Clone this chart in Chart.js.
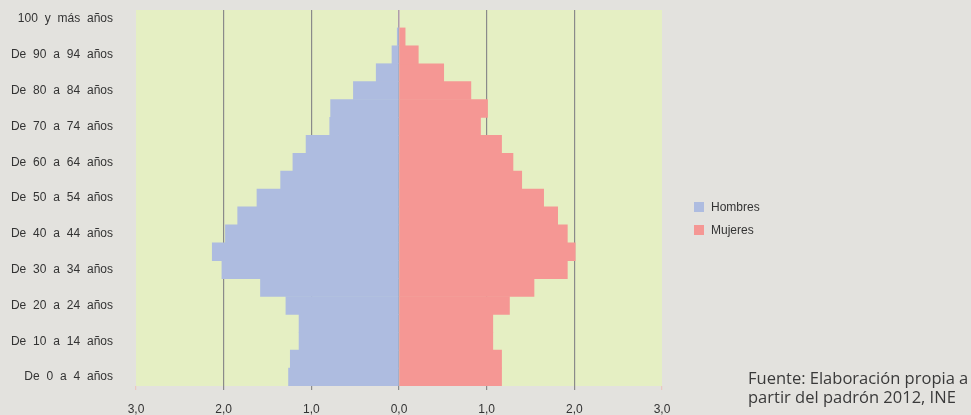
<!DOCTYPE html>
<html>
<head>
<meta charset="utf-8">
<script src="https://cdn.jsdelivr.net/npm/chart.js@4/dist/chart.umd.min.js"></script>
<style>
    html, body { margin: 0; padding: 0; background: #e3e2de; }
    #wrap { position: relative; width: 971px; height: 415px; }
    #legend { position: absolute; left: 694px; top: 201px; font: 12px "Liberation Sans", Arial, sans-serif; color: #333; }
    #legend div { height: 23px; line-height: 12px; }
    #legend span { display: inline-block; width: 10px; height: 10px; margin-right: 7px; vertical-align: -1px; }
    #source { position: absolute; left: 748px; top: 369px; font: 16.5px "Open Sans", sans-serif; color: #3a3a3a; line-height: 18.5px; white-space: nowrap; }
</style>
</head>
<body>
<div id="wrap">
    <canvas id="pyramid" width="971" height="415"></canvas>
    <div id="legend">
        <div><span style="background:#aebce0"></span>Hombres</div>
        <div><span style="background:#f59794"></span>Mujeres</div>
    </div>
    <div id="source">Fuente: Elaboración propia a<br>partir del padrón 2012, INE</div>
</div>
<script>
// Grupos de edad (de abajo hacia arriba)
const ageGroups = [
    'De 0 a 4 años', 'De 5 a 9 años', 'De 10 a 14 años', 'De 15 a 19 años',
    'De 20 a 24 años', 'De 25 a 29 años', 'De 30 a 34 años', 'De 35 a 39 años',
    'De 40 a 44 años', 'De 45 a 49 años', 'De 50 a 54 años', 'De 55 a 59 años',
    'De 60 a 64 años', 'De 65 a 69 años', 'De 70 a 74 años', 'De 75 a 79 años',
    'De 80 a 84 años', 'De 85 a 89 años', 'De 90 a 94 años', 'De 95 a 99 años',
    '100 y más años'
];

// Porcentaje de población por sexo
const hombres = [1.26, 1.24, 1.14, 1.14, 1.29, 1.58, 2.02, 2.13, 1.98, 1.84, 1.62,
    1.35, 1.21, 1.06, 0.79, 0.78, 0.52, 0.26, 0.08, 0.02, 0];
const mujeres = [1.17, 1.17, 1.07, 1.07, 1.26, 1.54, 1.92, 2.01, 1.92, 1.81, 1.65,
    1.40, 1.30, 1.17, 0.93, 1.01, 0.82, 0.51, 0.22, 0.07, 0];

const xTicks = [-3, -2, -1, 0, 1, 2, 3];

// Fondo verde del área del gráfico + espaciado de palabras
const plotBackground = {
    id: 'plotBackground',
    beforeDraw(chart) {
        const a = chart.chartArea;
        chart.ctx.save();
        chart.ctx.fillStyle = '#e5efc3';
        chart.ctx.fillRect(a.left, a.top, a.right - a.left, a.bottom - a.top);
        chart.ctx.restore();
        chart.ctx.wordSpacing = '3.5px';
    }
};

const ctx = document.getElementById('pyramid');
new Chart(ctx, {
    type: 'bar',
    data: {
        labels: ageGroups,
        datasets: [
            {
                label: 'Hombres',
                data: hombres.map(v => -v),
                backgroundColor: '#aebce0',
                barPercentage: 1,
                categoryPercentage: 1
            },
            {
                label: 'Mujeres',
                data: mujeres,
                backgroundColor: '#f59794',
                barPercentage: 1,
                categoryPercentage: 1
            }
        ]
    },
    options: {
        indexAxis: 'y',
        responsive: false,
        animation: false,
        layout: { padding: { left: 0, right: 309, top: 10, bottom: 0 } },
        scales: {
            x: {
                stacked: true,
                min: -3,
                max: 3,
                afterBuildTicks(scale) {
                    scale.ticks = xTicks.map(v => ({ value: v }));
                },
                afterFit(scale) {
                    scale.height = 29;
                    scale.paddingLeft = 0;
                    scale.paddingRight = 0;
                },
                ticks: {
                    color: '#333',
                    font: { family: '"Liberation Sans", Arial, sans-serif', size: 12 },
                    padding: 12,
                    callback: v => Math.abs(v).toFixed(1).replace('.', ',')
                },
                grid: {
                    color: c => (Math.abs(c.tick.value) === 3 ? 'rgba(0,0,0,0)' : '#8a8a8a'),
                    lineWidth: 1.2,
                    drawTicks: true,
                    tickLength: 4,
                    tickColor: c => (Math.abs(c.tick.value) === 3 ? '#ecc8c0' : '#8a8a8a')
                },
                border: { display: false }
            },
            y: {
                stacked: true,
                reverse: true,
                afterFit(scale) {
                    scale.width = 136;
                    scale.paddingTop = 0;
                    scale.paddingBottom = 0;
                },
                ticks: {
                    autoSkip: false,
                    color: '#333',
                    font: { family: '"Liberation Sans", Arial, sans-serif', size: 12 },
                    padding: 23,
                    callback: function(value, index) {
                        return index % 2 === 0 ? this.getLabelForValue(value) : '';
                    }
                },
                grid: { display: false, drawTicks: false },
                border: { display: false }
            }
        },
        plugins: {
            legend: { display: false },
            tooltip: { enabled: false }
        }
    },
    plugins: [plotBackground]
});
</script>
</body>
</html>
